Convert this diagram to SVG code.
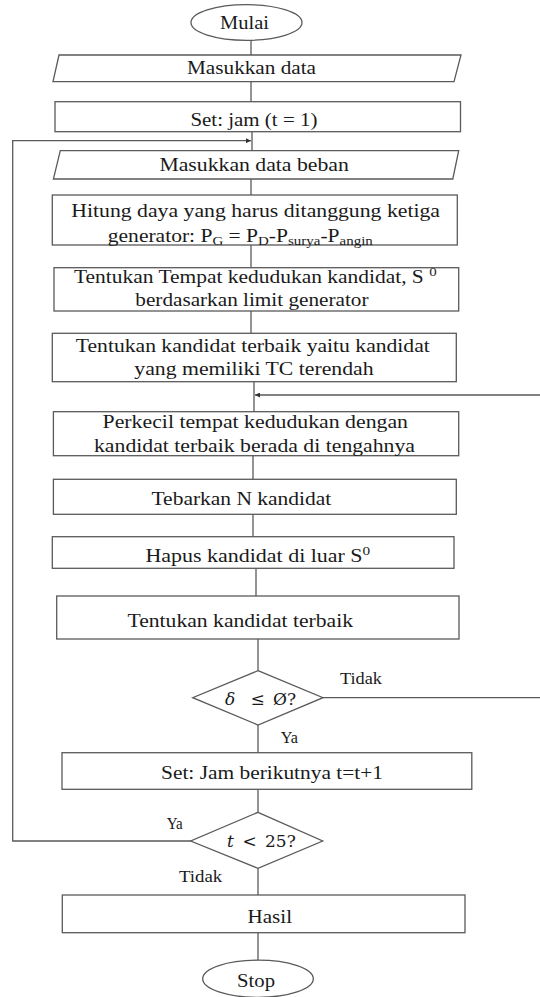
<svg xmlns="http://www.w3.org/2000/svg" width="540" height="997" viewBox="0 0 540 997">
  <defs>
    <style>
      .box { fill: #ffffff; stroke: #5a5a5a; stroke-width: 1.3; }
      .ln { fill: none; stroke: #5a5a5a; stroke-width: 1.3; }
      text { font-family: "Liberation Serif", "Times New Roman", serif; fill: #1a1a1a; }
      .t { font-size: 19px; }
      .s { font-size: 18px; }
      .lbl { font-size: 16px; }
      .sub { font-size: 12.5px; }
      .math { font-family: "DejaVu Serif", "Liberation Serif", serif; font-size: 17px; }
    </style>
    <marker id="arrow" viewBox="0 0 10 10" refX="10" refY="5" markerWidth="6" markerHeight="5" markerUnits="userSpaceOnUse" orient="auto">
      <path d="M0,0 L10,5 L0,10 Z" fill="#333333"/>
    </marker>
  </defs>
  <rect width="540" height="997" fill="#ffffff"/>

  <!-- connectors -->
  <g id="connectors">
    <line class="ln" x1="251" y1="40" x2="251" y2="55"/>
    <line class="ln" x1="251" y1="81.7" x2="251" y2="101.7"/>
    <line class="ln" x1="252" y1="131.7" x2="252" y2="150.7"/>
    <line class="ln" x1="251" y1="179" x2="251" y2="195"/>
    <line class="ln" x1="251" y1="245" x2="251" y2="267.7"/>
    <line class="ln" x1="251" y1="311" x2="251" y2="333.3"/>
    <line class="ln" x1="254" y1="381.7" x2="254" y2="411.7"/>
    <line class="ln" x1="253" y1="455.7" x2="253" y2="479.3"/>
    <line class="ln" x1="253" y1="514.3" x2="253" y2="536.7"/>
    <line class="ln" x1="256" y1="568.3" x2="256" y2="596"/>
    <line class="ln" x1="258" y1="639" x2="258" y2="670.7"/>
    <line class="ln" x1="258" y1="725" x2="258" y2="752.7"/>
    <line class="ln" x1="258" y1="789.3" x2="258" y2="812.3"/>
    <line class="ln" x1="258" y1="868.3" x2="258" y2="895"/>
    <line class="ln" x1="258" y1="932.7" x2="258" y2="960"/>
    <!-- "Tidak" branch back into the shrink step -->
    <path class="ln" d="M323,697.7 H546 V395 H255" marker-end="url(#arrow)"/>
    <!-- "Ya" branch back to the load input -->
    <path class="ln" d="M190.7,841 H12.7 V140.7 H251" marker-end="url(#arrow)"/>
    <text class="lbl" x="340" y="684" textLength="42" lengthAdjust="spacingAndGlyphs">Tidak</text>
    <text class="lbl" x="280.7" y="743" textLength="17.3" lengthAdjust="spacingAndGlyphs">Ya</text>
    <text class="lbl" x="166.7" y="829.3" textLength="16" lengthAdjust="spacingAndGlyphs">Ya</text>
    <text class="lbl" x="179" y="881.7" textLength="43.3" lengthAdjust="spacingAndGlyphs">Tidak</text>
  </g>

  <g id="mulai">
    <ellipse class="box" cx="246.5" cy="22.5" rx="55.5" ry="17.8"/>
    <text class="t" x="220" y="29.3" textLength="49" lengthAdjust="spacingAndGlyphs">Mulai</text>
  </g>

  <g id="masukkan-data">
    <polygon class="box" points="59,55 461,55 454,81.7 53,81.7"/>
    <text class="t" x="187" y="74" textLength="129" lengthAdjust="spacingAndGlyphs">Masukkan data</text>
  </g>

  <g id="set-jam">
    <rect class="box" x="55" y="101.7" width="405.5" height="30"/>
    <text class="t" x="190.4" y="126.2" textLength="127" lengthAdjust="spacingAndGlyphs">Set: jam (t = 1)</text>
  </g>

  <g id="masukkan-data-beban">
    <polygon class="box" points="60.3,150.7 458.7,150.7 452.8,179 53.4,179"/>
    <text class="t" x="159.4" y="170.5" textLength="189.4" lengthAdjust="spacingAndGlyphs">Masukkan data beban</text>
  </g>

  <g id="hitung-daya">
    <rect class="box" x="52.3" y="195" width="405" height="50"/>
    <text class="s" x="71.3" y="217.3" textLength="368.7" lengthAdjust="spacingAndGlyphs">Hitung  daya yang harus  ditanggung  ketiga</text>
    <text class="s" x="107.8" y="241.7" textLength="265" lengthAdjust="spacingAndGlyphs">generator: P<tspan class="sub" dy="3">G</tspan><tspan dy="-3"> = P</tspan><tspan class="sub" dy="3">D</tspan><tspan dy="-3">-P</tspan><tspan class="sub" dy="3">surya</tspan><tspan dy="-3">-P</tspan><tspan class="sub" dy="3">angin</tspan></text>
  </g>

  <g id="tempat-kedudukan">
    <rect class="box" x="54" y="267.7" width="404.7" height="43.3"/>
    <text class="s" x="74" y="283.3" textLength="362.6" lengthAdjust="spacingAndGlyphs">Tentukan Tempat kedudukan kandidat, S <tspan class="sub" dy="-7">0</tspan></text>
    <text class="s" x="135.3" y="306" textLength="233.2" lengthAdjust="spacingAndGlyphs">berdasarkan limit generator</text>
  </g>

  <g id="kandidat-terbaik-tc">
    <rect class="box" x="52.3" y="333.3" width="404" height="48.4"/>
    <text class="s" x="75.8" y="351.7" textLength="354" lengthAdjust="spacingAndGlyphs">Tentukan kandidat terbaik yaitu kandidat</text>
    <text class="s" x="134.3" y="375" textLength="239.3" lengthAdjust="spacingAndGlyphs">yang memiliki  TC terendah</text>
  </g>

  <g id="perkecil">
    <rect class="box" x="53.4" y="411.7" width="405.3" height="44"/>
    <text class="s" x="102.6" y="428.3" textLength="305.4" lengthAdjust="spacingAndGlyphs">Perkecil tempat kedudukan dengan</text>
    <text class="s" x="94" y="451.7" textLength="321" lengthAdjust="spacingAndGlyphs">kandidat terbaik berada di tengahnya</text>
  </g>

  <g id="tebarkan">
    <rect class="box" x="53.4" y="479.3" width="402.9" height="35"/>
    <text class="s" x="151.5" y="505" textLength="179.8" lengthAdjust="spacingAndGlyphs">Tebarkan N kandidat</text>
  </g>

  <g id="hapus">
    <rect class="box" x="52.3" y="536.7" width="401.7" height="31.6"/>
    <text class="s" x="145.5" y="562" textLength="224.7" lengthAdjust="spacingAndGlyphs">Hapus kandidat  di luar  S<tspan class="sub" dy="-7">0</tspan></text>
  </g>

  <g id="kandidat-terbaik">
    <rect class="box" x="56.7" y="596" width="402.3" height="43"/>
    <text class="s" x="127.5" y="626.7" textLength="225.5" lengthAdjust="spacingAndGlyphs">Tentukan kandidat terbaik</text>
  </g>

  <g id="cek-delta">
    <polygon class="box" points="258,670.7 323,697.7 258,725 192.7,697.7"/>
    <text class="math" y="705"><tspan x="225" font-style="italic">δ</tspan><tspan x="250.5">≤</tspan><tspan x="273">Ø?</tspan></text>
  </g>

  <g id="jam-berikutnya">
    <rect class="box" x="62" y="752.7" width="409.8" height="36.6"/>
    <text class="s" x="161" y="779" textLength="222" lengthAdjust="spacingAndGlyphs">Set: Jam berikutnya  t=t+1</text>
  </g>

  <g id="cek-jam">
    <polygon class="box" points="258,812.3 322.7,841 258,868.3 190.7,841"/>
    <text class="math" y="846.7"><tspan x="227" font-style="italic">t</tspan><tspan x="242.5">&lt;</tspan><tspan x="265">25?</tspan></text>
  </g>

  <g id="hasil">
    <rect class="box" x="62.3" y="895" width="402.7" height="37.7"/>
    <text class="t" x="247.5" y="922.7" font-size="20" textLength="44.5" lengthAdjust="spacingAndGlyphs">Hasil</text>
  </g>

  <g id="stop">
    <ellipse class="box" cx="258" cy="978.8" rx="55.3" ry="18.6"/>
    <text class="t" x="237" y="986.7" textLength="38" lengthAdjust="spacingAndGlyphs">Stop</text>
  </g>
</svg>
